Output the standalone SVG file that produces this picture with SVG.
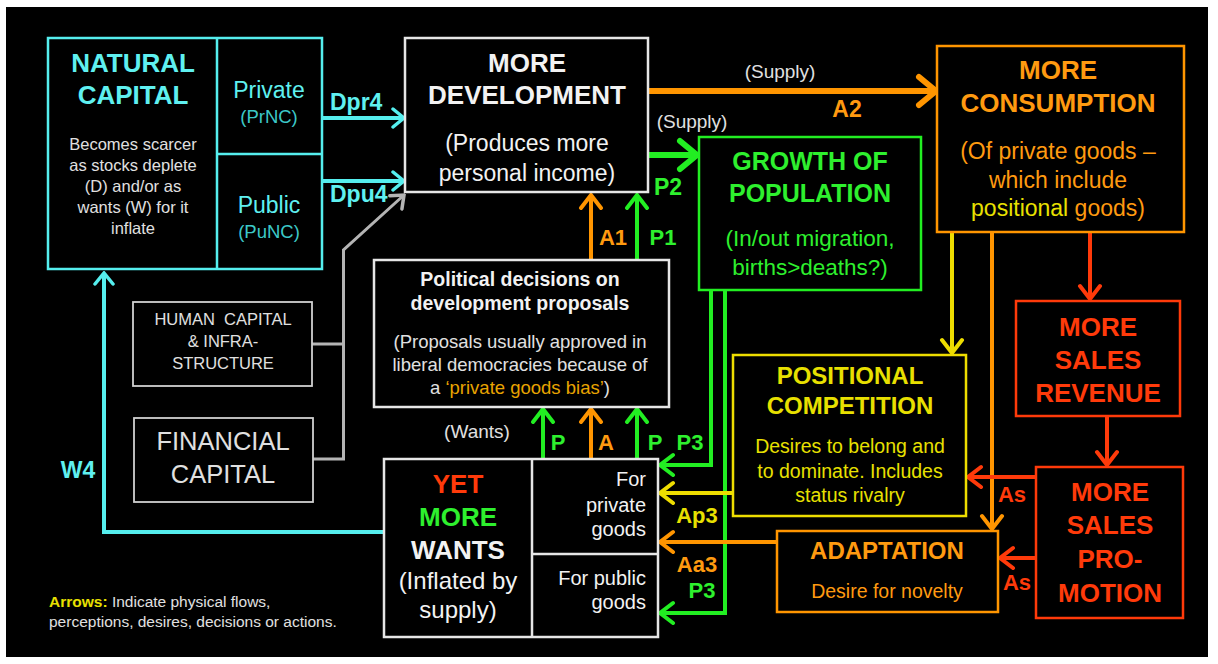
<svg xmlns="http://www.w3.org/2000/svg" width="1218" height="664" viewBox="0 0 1218 664">
<style>
text{font-family:"Liberation Sans",Arial,sans-serif}
.b{font-weight:bold}
.m{text-anchor:middle}
.box{fill:#000;stroke-width:2.5}
.cy{stroke:#55eeee}.cyt{fill:#5ff0f0}
.wh{stroke:#e6e6e6}.wht{fill:#f2f2f2}
.gy{stroke:#d0d0d0;stroke-width:1.8}.gyt{fill:#e0e0e0}
.gr{stroke:#22ee22}.grt{fill:#2ef02e}
.or{stroke:#ff9500}.ort{fill:#ff9a10}
.ye{stroke:#eedd00}.yet{fill:#e8e000}
.rd{stroke:#ff3a0a}.rdt{fill:#ff3a0a}
.ln{fill:none;stroke-linecap:butt;stroke-linejoin:miter}
</style>
<defs>
<marker id="mc" viewBox="0 0 16 22" markerWidth="16" markerHeight="22" refX="14" refY="11" orient="auto" markerUnits="userSpaceOnUse"><path d="M3,2 L14,11 L3,20" fill="none" stroke="#55eeee" stroke-width="3.5" stroke-linecap="round"/></marker>
<marker id="mgy" viewBox="0 0 16 22" markerWidth="16" markerHeight="22" refX="14" refY="11" orient="auto" markerUnits="userSpaceOnUse"><path d="M3,2 L14,11 L3,20" fill="none" stroke="#b4b4b4" stroke-width="3.5" stroke-linecap="round"/></marker>
<marker id="mob" viewBox="0 0 26 36" markerWidth="26" markerHeight="36" refX="22" refY="18" orient="auto" markerUnits="userSpaceOnUse"><path d="M5,4 L22,18 L5,32" fill="none" stroke="#ff9500" stroke-width="6" stroke-linecap="round"/></marker>
<marker id="mgb" viewBox="0 0 26 36" markerWidth="26" markerHeight="36" refX="22" refY="18" orient="auto" markerUnits="userSpaceOnUse"><path d="M5,4 L22,18 L5,32" fill="none" stroke="#22ee22" stroke-width="6" stroke-linecap="round"/></marker>
<marker id="mg" viewBox="0 0 20 26" markerWidth="20" markerHeight="26" refX="17" refY="13" orient="auto" markerUnits="userSpaceOnUse"><path d="M4,3 L17,13 L4,23" fill="none" stroke="#22ee22" stroke-width="4" stroke-linecap="round"/></marker>
<marker id="mo" viewBox="0 0 20 26" markerWidth="20" markerHeight="26" refX="17" refY="13" orient="auto" markerUnits="userSpaceOnUse"><path d="M4,3 L17,13 L4,23" fill="none" stroke="#ff9500" stroke-width="4" stroke-linecap="round"/></marker>
<marker id="my" viewBox="0 0 20 26" markerWidth="20" markerHeight="26" refX="17" refY="13" orient="auto" markerUnits="userSpaceOnUse"><path d="M4,3 L17,13 L4,23" fill="none" stroke="#eedd00" stroke-width="4" stroke-linecap="round"/></marker>
<marker id="mr" viewBox="0 0 20 26" markerWidth="20" markerHeight="26" refX="17" refY="13" orient="auto" markerUnits="userSpaceOnUse"><path d="M4,3 L17,13 L4,23" fill="none" stroke="#ff3a0a" stroke-width="4" stroke-linecap="round"/></marker>
</defs>
<rect x="0" y="0" width="1218" height="664" fill="#fff"/>
<rect x="6" y="7" width="1202" height="650" fill="#000"/>

<g id="connectors">
<path class="ln cy" stroke-width="4" d="M384,532 L104,532 L104,273" marker-end="url(#mc)"/>
<path class="ln cy" stroke-width="4" d="M322,118 L404,118" marker-end="url(#mc)"/>
<path class="ln cy" stroke-width="4" d="M322,181 L404,181" marker-end="url(#mc)"/>
<path class="ln" stroke="#b4b4b4" stroke-width="3" d="M312,344 L343.5,344"/>
<path class="ln" stroke="#b4b4b4" stroke-width="3" d="M313,459 L343.5,459 L343.5,250 L404,195" marker-end="url(#mgy)"/>
<path class="ln or" stroke-width="6" d="M648,91 L936,91" marker-end="url(#mob)"/>
<path class="ln gr" stroke-width="6" d="M648,155 L697,155" marker-end="url(#mgb)"/>
<path class="ln gr" stroke-width="4" d="M543,554 L543,409" marker-end="url(#mg)"/>
<path class="ln or" stroke-width="4" d="M591,459 L591,409" marker-end="url(#mo)"/>
<path class="ln gr" stroke-width="4" d="M637,459 L637,409" marker-end="url(#mg)"/>
<path class="ln" stroke="#cc3300" stroke-width="3.5" d="M591,407 L591,261"/>
<path class="ln" stroke="#119911" stroke-width="3.5" d="M637,407 L637,261"/>
<path class="ln or" stroke-width="4" d="M591,261 L591,195" marker-end="url(#mo)"/>
<path class="ln gr" stroke-width="4" d="M637,261 L637,195" marker-end="url(#mg)"/>
<path class="ln gr" stroke-width="4" d="M711,291 L711,465 L660,465" marker-end="url(#mg)"/>
<path class="ln gr" stroke-width="4" d="M725,291 L725,613 L660,613" marker-end="url(#mg)"/>
<path class="ln ye" stroke-width="4" d="M733,493 L660,493" marker-end="url(#my)"/>
<path class="ln or" stroke-width="4" d="M777,542 L660,542" marker-end="url(#mo)"/>
<path class="ln ye" stroke-width="4" d="M952,233 L952,353" marker-end="url(#my)"/>
<path class="ln or" stroke-width="4" d="M992,233 L992,529" marker-end="url(#mo)"/>
<path class="ln rd" stroke-width="4" d="M1090,233 L1090,299" marker-end="url(#mr)"/>
<path class="ln rd" stroke-width="4" d="M1107,417 L1107,465" marker-end="url(#mr)"/>
<path class="ln rd" stroke-width="4" d="M1036,477 L968,477" marker-end="url(#mr)"/>
<path class="ln rd" stroke-width="4" d="M1036,558 L1000,558" marker-end="url(#mr)"/>
<text class="b cyt" x="330" y="110" font-size="23">Dpr4</text>
<text class="b cyt" x="330" y="202" font-size="23">Dpu4</text>
<text class="m gyt" x="780" y="78" font-size="19">(Supply)</text>
<text class="m b ort" x="847" y="117" font-size="23">A2</text>
<text class="m gyt" x="692" y="128" font-size="19">(Supply)</text>
<text class="m b grt" x="668" y="195" font-size="23">P2</text>
<text class="m b ort" x="613" y="245" font-size="22">A1</text>
<text class="m b grt" x="663" y="245" font-size="22">P1</text>
<text class="m gyt" x="477" y="438" font-size="19">(Wants)</text>
<text class="m b grt" x="558" y="450" font-size="22">P</text>
<text class="m b ort" x="606" y="450" font-size="22">A</text>
<text class="m b grt" x="655" y="450" font-size="22">P</text>
<text class="m b grt" x="690" y="450" font-size="22">P3</text>
<text class="m b yet" x="697" y="523" font-size="22">Ap3</text>
<text class="m b ort" x="697" y="572" font-size="22">Aa3</text>
<text class="m b grt" x="702" y="598" font-size="22">P3</text>
<text class="m b rdt" x="1012" y="502" font-size="22">As</text>
<text class="m b rdt" x="1017" y="590" font-size="22">As</text>
<text class="m b cyt" x="78" y="478" font-size="23">W4</text>
</g>

<g id="natural-capital">
<rect class="box cy" x="48" y="38" width="274" height="231"/>
<path class="cy" stroke-width="2.5" d="M217,38 L217,269 M217,154 L322,154"/>
<text class="m b cyt" x="133" y="72" font-size="26">NATURAL</text>
<text class="m b cyt" x="133" y="104" font-size="26">CAPITAL</text>
<g class="gyt" font-size="16.5">
<text class="m" x="133" y="150">Becomes scarcer</text>
<text class="m" x="133" y="171">as stocks deplete</text>
<text class="m" x="133" y="192">(D) and/or as</text>
<text class="m" x="133" y="213">wants (W) for it</text>
<text class="m" x="133" y="234">inflate</text>
</g>
<text class="m cyt" x="269" y="98" font-size="23">Private</text>
<text class="m" fill="#3cc8c8" x="269" y="123" font-size="18.5">(PrNC)</text>
<text class="m cyt" x="269" y="213" font-size="23">Public</text>
<text class="m" fill="#3cc8c8" x="269" y="238" font-size="18.5">(PuNC)</text>
</g>

<g id="more-development">
<rect class="box wh" x="405" y="38" width="243" height="154"/>
<text class="m b wht" x="527" y="72" font-size="26">MORE</text>
<text class="m b wht" x="527" y="104" font-size="26">DEVELOPMENT</text>
<text class="m wht" x="527" y="151" font-size="23">(Produces more</text>
<text class="m wht" x="527" y="181" font-size="23">personal income)</text>
</g>

<g id="growth-of-population">
<rect class="box gr" x="699" y="137" width="222" height="153"/>
<text class="m b grt" x="810" y="170" font-size="25">GROWTH OF</text>
<text class="m b grt" x="810" y="202" font-size="25">POPULATION</text>
<text class="m grt" x="810" y="246" font-size="22.5">(In/out migration,</text>
<text class="m grt" x="810" y="275" font-size="22.5">births&gt;deaths?)</text>
</g>

<g id="more-consumption">
<rect class="box or" x="937" y="46" width="247" height="186"/>
<text class="m b ort" x="1058" y="79" font-size="26">MORE</text>
<text class="m b ort" x="1058" y="112" font-size="26">CONSUMPTION</text>
<text class="m ort" x="1058" y="159" font-size="23">(Of private goods –</text>
<text class="m ort" x="1058" y="188" font-size="23">which include</text>
<text class="m ort" x="1058" y="216" font-size="23"><tspan class="yet">positional</tspan> goods)</text>
</g>

<g id="human-capital">
<rect class="box gy" x="133" y="302" width="179" height="84"/>
<g class="gyt" font-size="16.5">
<text class="m" x="223" y="325" xml:space="preserve">HUMAN  CAPITAL</text>
<text class="m" x="223" y="347">&amp; INFRA-</text>
<text class="m" x="223" y="369">STRUCTURE</text>
</g>
</g>

<g id="financial-capital">
<rect class="box gy" x="134" y="418" width="179" height="84"/>
<text class="m gyt" x="223" y="450" font-size="25.5">FINANCIAL</text>
<text class="m gyt" x="223" y="483" font-size="25.5">CAPITAL</text>
</g>

<g id="political-decisions">
<rect class="box wh" x="374" y="260" width="295" height="147"/>
<text class="m b wht" x="520" y="286" font-size="19.5">Political decisions on</text>
<text class="m b wht" x="520" y="310" font-size="19.5">development proposals</text>
<g class="gyt" font-size="18.5">
<text class="m" x="520" y="348">(Proposals usually approved in</text>
<text class="m" x="520" y="371">liberal democracies because of</text>
<text class="m" x="520" y="394">a <tspan fill="#e8a400">‘private goods bias’</tspan>)</text>
</g>
</g>

<g id="yet-more-wants">
<rect class="box wh" x="384" y="459" width="274" height="178"/>
<path class="wh" stroke-width="2.5" d="M532,459 L532,637 M532,554 L658,554"/>
<text class="m b rdt" x="458" y="493" font-size="26">YET</text>
<text class="m b grt" x="458" y="526" font-size="26">MORE</text>
<text class="m b wht" x="458" y="559" font-size="26">WANTS</text>
<text class="m wht" x="458" y="589" font-size="24">(Inflated by</text>
<text class="m wht" x="458" y="618" font-size="24">supply)</text>
<g class="wht" font-size="20" text-anchor="end">
<text x="646" y="486">For</text>
<text x="646" y="512">private</text>
<text x="646" y="536">goods</text>
<text x="646" y="585">For public</text>
<text x="646" y="609">goods</text>
</g>
</g>

<g id="positional-competition">
<rect class="box ye" x="733" y="355" width="233" height="161"/>
<text class="m b yet" x="850" y="384" font-size="24">POSITIONAL</text>
<text class="m b yet" x="850" y="414" font-size="24">COMPETITION</text>
<text class="m yet" x="850" y="453" font-size="19.5">Desires to belong and</text>
<text class="m yet" x="850" y="478" font-size="19.5">to dominate. Includes</text>
<text class="m yet" x="850" y="502" font-size="19.5">status rivalry</text>
</g>

<g id="adaptation">
<rect class="box or" x="777" y="531" width="221" height="81"/>
<text class="m b ort" x="887" y="559" font-size="24">ADAPTATION</text>
<text class="m ort" x="887" y="598" font-size="19.5">Desire for novelty</text>
</g>

<g id="sales-revenue">
<rect class="box rd" x="1016" y="301" width="164" height="115"/>
<text class="m b rdt" x="1098" y="336" font-size="26">MORE</text>
<text class="m b rdt" x="1098" y="369" font-size="26">SALES</text>
<text class="m b rdt" x="1098" y="402" font-size="26">REVENUE</text>
</g>

<g id="sales-promotion">
<rect class="box rd" x="1036" y="467" width="147" height="151"/>
<text class="m b rdt" x="1110" y="501" font-size="26">MORE</text>
<text class="m b rdt" x="1110" y="534" font-size="26">SALES</text>
<text class="m b rdt" x="1110" y="568" font-size="26">PRO-</text>
<text class="m b rdt" x="1110" y="602" font-size="26">MOTION</text>
</g>

<g id="legend">
<text x="49" y="607" font-size="15.5" class="gyt"><tspan class="b yet">Arrows:</tspan> Indicate physical flows,</text>
<text x="49" y="627" font-size="15.5" class="gyt">perceptions, desires, decisions or actions.</text>
</g>
</svg>
